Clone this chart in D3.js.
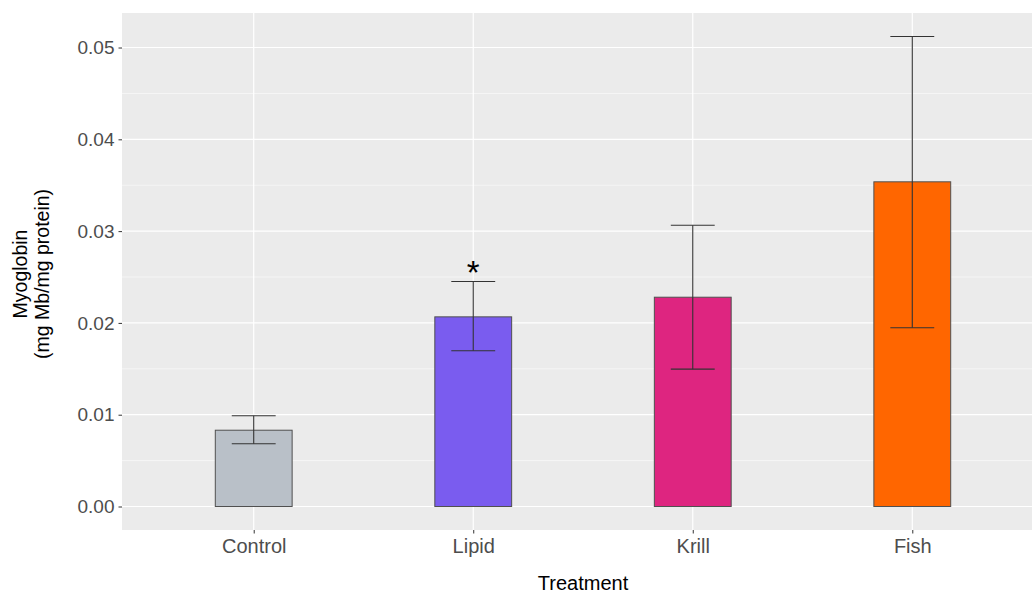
<!DOCTYPE html>
<html><head><meta charset="utf-8">
<script src="https://cdn.jsdelivr.net/npm/d3@7"></script>
<style>body{margin:0;background:#fff}svg{display:block}</style>
</head><body>
<svg id="c" width="1032" height="596"></svg>
<script>
const categories = ["Control", "Lipid", "Krill", "Fish"];
const means = [0.00831, 0.02066, 0.0228, 0.03537];
const lower = [0.00683, 0.01696, 0.01496, 0.01947];
const upper = [0.00988, 0.02451, 0.03064, 0.0512];
const colors = ["#b9c0c8", "#7a5cef", "#de2580", "#ff6600"];
const signif = ["", "*", "", ""];
const yTicks = [0, 0.01, 0.02, 0.03, 0.04, 0.05];
const yMinor = [0.005, 0.015, 0.025, 0.035, 0.045];

const svg = d3.select("#c");
const P = {left: 122, top: 13, right: 1044, bottom: 530};
const unit = (P.right - P.left) / 4.2;
const x = d3.scalePoint().domain(categories).range([P.left + 0.6 * unit, P.right - 0.6 * unit]);
const cx = c => x(c);
const dmax = d3.max(upper);
const y = d3.scaleLinear().domain([-0.05 * dmax, 1.05 * dmax]).range([P.bottom, P.top]);
const font = "Liberation Sans, Arial, sans-serif";

svg.append("rect").attr("x", P.left).attr("y", P.top).attr("width", P.right - P.left).attr("height", P.bottom - P.top).attr("fill", "#ebebeb");
const g = svg.append("g");
g.selectAll(".mn").data(yMinor).join("line").attr("x1", P.left).attr("x2", P.right).attr("y1", d => y(d)).attr("y2", d => y(d)).attr("stroke", "#f7f7f7").attr("stroke-width", 0.8);
g.selectAll(".mj").data(yTicks).join("line").attr("x1", P.left).attr("x2", P.right).attr("y1", d => y(d)).attr("y2", d => y(d)).attr("stroke", "#fff").attr("stroke-width", 1.2);
g.selectAll(".vx").data(categories).join("line").attr("x1", cx).attr("x2", cx).attr("y1", P.top).attr("y2", P.bottom).attr("stroke", "#fff").attr("stroke-width", 1.2);

const bw = 0.35 * unit;
svg.selectAll(".bar").data(categories).join("rect")
  .attr("x", d => cx(d) - bw / 2).attr("width", bw)
  .attr("y", (d, i) => y(means[i])).attr("height", (d, i) => y(0) - y(means[i]))
  .attr("fill", (d, i) => colors[i]).attr("stroke", "#505050").attr("stroke-width", 1);

const cw = 0.2 * unit;
const eb = svg.append("g").attr("stroke", "#333").attr("stroke-width", 1.1).attr("fill", "none");
categories.forEach((c, i) => {
  eb.append("line").attr("x1", cx(c)).attr("x2", cx(c)).attr("y1", y(lower[i])).attr("y2", y(upper[i]));
  eb.append("line").attr("x1", cx(c) - cw / 2).attr("x2", cx(c) + cw / 2).attr("y1", y(lower[i])).attr("y2", y(lower[i]));
  eb.append("line").attr("x1", cx(c) - cw / 2).attr("x2", cx(c) + cw / 2).attr("y1", y(upper[i])).attr("y2", y(upper[i]));
});
svg.selectAll(".sig").data(categories).join("text")
  .attr("x", cx).attr("y", (d, i) => y(upper[i]) + 2)
  .attr("text-anchor", "middle").attr("font-family", font)
  .attr("font-size", 33).attr("fill", "#000").text((d, i) => signif[i]);

const yAxis = svg.append("g").attr("transform", `translate(${P.left},0)`)
  .call(d3.axisLeft(y).tickValues(yTicks).tickFormat(d3.format(".2f")).tickSize(3.5).tickPadding(4));
yAxis.select(".domain").remove();
yAxis.selectAll("line").attr("stroke", "#333");
yAxis.selectAll("text").attr("font-family", font).attr("font-size", 19).attr("fill", "#4d4d4d");

const xAxis = svg.append("g").attr("transform", `translate(0,${P.bottom})`)
  .call(d3.axisBottom(x).tickSize(3.5).tickPadding(5));
xAxis.select(".domain").remove();
xAxis.selectAll("line").attr("stroke", "#333");
xAxis.selectAll("text").attr("font-family", font).attr("font-size", 20).attr("fill", "#4d4d4d");

svg.append("text").attr("x", 583).attr("y", 590).attr("text-anchor", "middle")
  .attr("font-family", font).attr("font-size", 20).attr("fill", "#000").text("Treatment");
const yt = svg.append("text").attr("transform", `translate(0,274) rotate(-90)`)
  .attr("text-anchor", "middle").attr("font-family", font).attr("font-size", 19.5).attr("fill", "#000");
yt.append("tspan").attr("x", 0).attr("y", 27).text("Myoglobin");
yt.append("tspan").attr("x", 0).attr("y", 49).text("(mg Mb/mg protein)");
</script>
</body></html>
